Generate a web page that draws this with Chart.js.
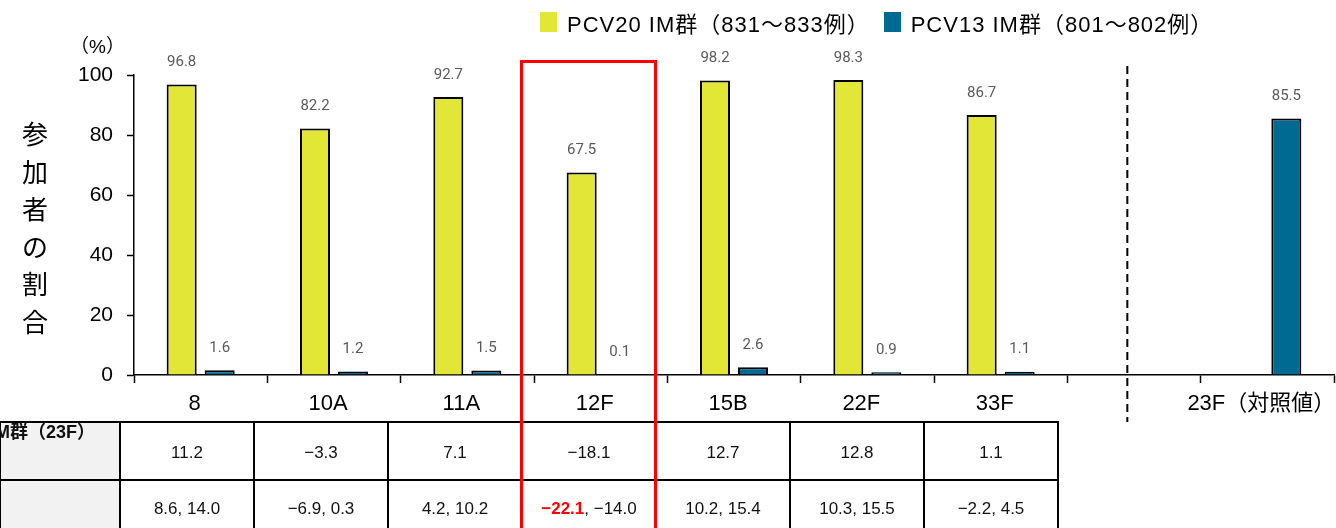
<!DOCTYPE html>
<html lang="ja">
<head>
<meta charset="utf-8">
<script src="https://cdn.jsdelivr.net/npm/chart.js@4.4.1/dist/chart.umd.min.js"></script>
<style>
  html, body { margin: 0; padding: 0; background: #fff; }
  body { width: 1336px; height: 528px; position: relative; overflow: hidden;
         font-family: 'Liberation Sans', 'Noto Sans CJK JP', sans-serif; color: #000; }
  #chart { position: absolute; left: 0; top: 0; }
  #legend { position: absolute; left: 540px; top: 6px; display: flex; align-items: center;
            font-size: 22px; letter-spacing: 1px; white-space: nowrap; }
  #legend .item { display: flex; align-items: center; margin-right: 14px; }
  #legend .box { width: 17px; height: 20px; margin-right: 10px; }
  #unit { position: absolute; left: 70px; top: 31px; font-size: 19px; }
  #ytitle { position: absolute; left: 21px; top: 114px; width: 28px; font-size: 26px;
            line-height: 37.5px; text-align: center; font-family: 'Noto Sans CJK JP', sans-serif; }
  #tbl { position: absolute; left: -1px; top: 421px; border-collapse: collapse; table-layout: fixed; }
  #tbl td { border: 2px solid #000; height: 56px; padding: 0; text-align: center;
            font-size: 17px; color: #111; white-space: nowrap; }
  #tbl tr:first-child td { padding-top: 4px; height: 52px; }
  #tbl td.head { background: #f2f2f2; position: relative; vertical-align: top; }
  #tbl td.head span { position: absolute; right: 24px; top: -1px; font-weight: bold; font-size: 18px;
                      line-height: 20px; }
  #tbl .neg { color: #f00; font-weight: bold; }
  #redbox { position: absolute; left: 520px; top: 60px; width: 137px; height: 520px;
            border: 3.5px solid #f00; box-sizing: border-box; }
</style>
</head>
<body>
<canvas id="chart" width="1336" height="528"></canvas>
<div id="legend"></div>
<div id="unit">（%）</div>
<div id="ytitle"></div>
<table id="tbl"></table>
<div id="redbox"></div>
<script>
// categories and series
const categories = ['8', '10A', '11A', '12F', '15B', '22F', '33F', '', '23F（対照値）'];
const pcv20 = [96.8, 82.2, 92.7, 67.5, 98.2, 98.3, 86.7, null, null];
const pcv13 = [1.6, 1.2, 1.5, 0.1, 2.6, 0.9, 1.1, null, 85.5];
const seriesLabels = ['PCV20 IM群（831～833例）', 'PCV13 IM群（801～802例）'];
const seriesColors = ['#e1e637', '#006a92'];
const yTicks = [0, 20, 40, 60, 80, 100];
const yTitle = '参加者の割合';

// table below the axis (difference vs 23F and 95% CI)
const tableHead = 'PCV20 IM群－PCV13 IM群（23F）';
const diffs = [11.2, -3.3, 7.1, -18.1, 12.7, 12.8, 1.1];
const ciLower = [8.6, -6.9, 4.2, -22.1, 10.2, 10.3, -2.2];
const ciUpper = [14.0, 0.3, 10.2, -14.0, 15.4, 15.5, 4.5];
const margin = -10;

function fmt(v) {
    const s = Math.abs(v).toFixed(1);
    return v < 0 ? '−' + s : s;
}

const FONT = "'Liberation Sans', 'Noto Sans CJK JP', sans-serif";

// value labels above bars
const valueLabels = {
    id: 'valueLabels',
    afterDatasetsDraw(chart) {
        const ctx = chart.ctx;
        ctx.save();
        ctx.font = "15px Roboto, sans-serif";
        ctx.fillStyle = '#595959';
        ctx.textAlign = 'center';
        ctx.textBaseline = 'middle';
        chart.data.datasets.forEach(function (ds, i) {
            chart.getDatasetMeta(i).data.forEach(function (bar, j) {
                const v = ds.data[j];
                if (v === null || v === undefined) return;
                ctx.fillText(v.toFixed(1), bar.x, bar.y - 22);
            });
        });
        ctx.restore();
    }
};

// dashed separator before the control serotype
const separator = {
    id: 'separator',
    afterDraw(chart) {
        const x = chart.scales.x.getPixelForValue(6.95);
        const ctx = chart.ctx;
        ctx.save();
        ctx.strokeStyle = '#000';
        ctx.lineWidth = 2;
        ctx.setLineDash([8, 5]);
        ctx.beginPath();
        ctx.moveTo(x, chart.chartArea.top - 9);
        ctx.lineTo(x, chart.chartArea.bottom + 47);
        ctx.stroke();
        ctx.restore();
    }
};

const chart = new Chart(document.getElementById('chart'), {
    type: 'bar',
    data: {
        labels: categories,
        datasets: [
            { label: seriesLabels[0], data: pcv20, backgroundColor: seriesColors[0],
              borderColor: '#000', borderWidth: 2 },
            { label: seriesLabels[1], data: pcv13, backgroundColor: seriesColors[1],
              borderColor: '#000', borderWidth: 2 }
        ]
    },
    options: {
        responsive: false,
        animation: false,
        devicePixelRatio: 1,
        categoryPercentage: 0.57,
        barPercentage: 0.79,
        layout: { padding: { top: 75, right: 2, left: 0, bottom: 0 } },
        plugins: { legend: { display: false }, tooltip: { enabled: false } },
        scales: {
            x: {
                grid: { drawOnChartArea: false, tickLength: 8, tickColor: '#000', tickWidth: 1.5 },
                border: { color: '#000', width: 1.5 },
                ticks: { color: '#000', font: { family: FONT, size: 22 }, padding: 8, labelOffset: -6,
                         maxRotation: 0, autoSkip: false },
                afterFit(scale) { scale.height = 153; scale.paddingLeft = 0; scale.paddingRight = 0; }
            },
            y: {
                min: 0, max: 100,
                afterBuildTicks(scale) { scale.ticks = yTicks.map(v => ({ value: v })); },
                grid: { drawOnChartArea: false, tickLength: 7, tickColor: '#000', tickWidth: 1.5 },
                border: { color: '#000', width: 1.5 },
                ticks: { color: '#000', font: { family: FONT, size: 21 }, padding: 14 },
                afterFit(scale) { scale.width = 134; }
            }
        }
    },
    plugins: [valueLabels, separator]
});

// legend
const legend = document.getElementById('legend');
chart.data.datasets.forEach(function (ds) {
    const item = document.createElement('div');
    item.className = 'item';
    const box = document.createElement('span');
    box.className = 'box';
    box.style.background = ds.backgroundColor;
    const txt = document.createElement('span');
    txt.textContent = ds.label;
    item.appendChild(box);
    item.appendChild(txt);
    legend.appendChild(item);
});

// vertical y title
document.getElementById('ytitle').innerHTML = yTitle.split('').join('<br>');

// table
const tbl = document.getElementById('tbl');
const colgroup = document.createElement('colgroup');
[120].concat(diffs.map(() => 134)).forEach(function (w) {
    const c = document.createElement('col');
    c.style.width = w + 'px';
    colgroup.appendChild(c);
});
tbl.appendChild(colgroup);
const r1 = tbl.insertRow();
const h1 = r1.insertCell();
h1.className = 'head';
h1.innerHTML = '<span></span>';
h1.firstChild.textContent = tableHead;
diffs.forEach(function (d) { r1.insertCell().textContent = fmt(d); });
const r2 = tbl.insertRow();
const h2 = r2.insertCell();
h2.className = 'head';
ciLower.forEach(function (lo, i) {
    const cell = r2.insertCell();
    const a = document.createElement('span');
    a.textContent = fmt(lo);
    if (lo < margin) a.className = 'neg';
    cell.appendChild(a);
    cell.appendChild(document.createTextNode(', ' + fmt(ciUpper[i])));
});
</script>
</body>
</html>
